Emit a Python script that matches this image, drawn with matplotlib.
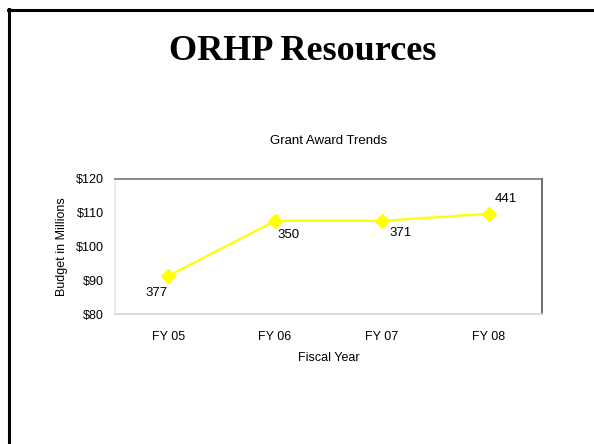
import matplotlib
matplotlib.use("Agg")
import matplotlib.pyplot as plt
from matplotlib.lines import Line2D

# data
years = ["FY 05", "FY 06", "FY 07", "FY 08"]
budget = [91.3, 107.6, 107.6, 109.7]
awards = ["377", "350", "371", "441"]
label_offsets = [(-12, -17), (13, -14), (19, -12), (17, 15)]  # pixels

fig = plt.figure(figsize=(5.94, 4.44), dpi=100)

# slide frame (top and left edges only)
fig.add_artist(Line2D([7.5 / 594, 1.0], [1 - 10 / 444, 1 - 10 / 444], color="black", lw=2.2,
                      transform=fig.transFigure))
fig.add_artist(Line2D([8.5 / 594, 8.5 / 594], [0.0, 1 - 9 / 444], color="black", lw=2.2,
                      transform=fig.transFigure))

fig.text(0.509, 1 - 52 / 444, "ORHP Resources", ha="center", va="center",
         fontsize=26, fontweight="bold", family="Liberation Serif")

ax = fig.add_axes([115 / 594, 1 - 314 / 444, 427 / 594, 135 / 444])
x = list(range(len(years)))
ax.plot(x, budget, color="#FFFF00", lw=1.6, marker="D", markersize=7, clip_on=False)

for i, lab in enumerate(awards):
    dx, dy = label_offsets[i]
    ax.annotate(lab, (x[i], budget[i]), xytext=(dx, dy), textcoords="offset pixels",
                ha="center", va="center", fontsize=9.5, family="Liberation Sans")

ax.set_xlim(-0.5, 3.5)
ax.set_ylim(80, 120)
ax.set_yticks([80, 90, 100, 110, 120])
ax.set_yticklabels(["$80", "$90", "$100", "$110", "$120"])
ax.set_xticks(x)
ax.set_xticklabels(years)
ax.tick_params(length=0, labelsize=9, pad=12)
ax.tick_params(axis="y", pad=8)
for t in ax.get_xticklabels() + ax.get_yticklabels():
    t.set_family("Liberation Sans")

ax.spines["top"].set_color("#777777")
ax.spines["right"].set_color("#555555")
ax.spines["left"].set_color("#e6e6e6")
ax.spines["bottom"].set_color("#d6d6d6")
for s in ax.spines.values():
    s.set_linewidth(1.2)

ax.set_title("Grant Award Trends", fontsize=9.5, family="Liberation Sans", pad=25)
ax.set_xlabel("Fiscal Year", fontsize=9, family="Liberation Sans", labelpad=7)
ax.set_ylabel("Budget in Millions", fontsize=9, family="Liberation Sans", labelpad=6)

fig.savefig("out.png", dpi=100)
